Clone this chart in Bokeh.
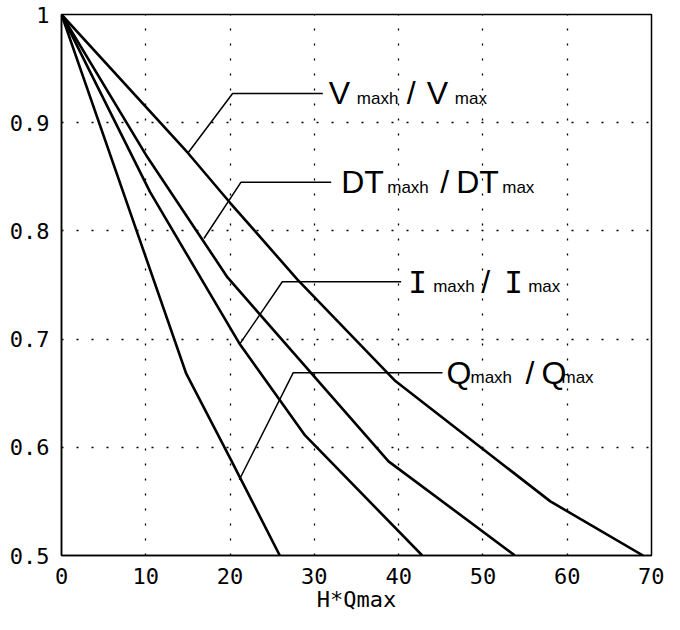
from bokeh.plotting import figure
from bokeh.models import Range1d, FixedTicker, Label
from bokeh.embed import file_html
from bokeh.resources import INLINE

# ---- data ----
v_x = [0, 15, 20, 28, 39.5, 58, 69]
v_y = [1.0, 0.872, 0.826, 0.755, 0.662, 0.55, 0.5]

dt_x = [0, 10.2, 19.7, 38.8, 53.8]
dt_y = [1.0, 0.868, 0.757, 0.587, 0.5]

i_x = [0, 10.5, 21.1, 28.9, 42.8]
i_y = [1.0, 0.836, 0.696, 0.611, 0.5]

q_x = [0, 14.8, 20, 25.9]
q_y = [1.0, 0.668, 0.59, 0.5]

# leader lines: curve point -> corner -> label end
v_lead_x = [15.0, 20.3, 31.0]
v_lead_y = [0.872, 0.927, 0.927]
dt_lead_x = [16.9, 21.3, 32.0]
dt_lead_y = [0.793, 0.845, 0.845]
i_lead_x = [21.2, 26.2, 40.3]
i_lead_y = [0.696, 0.753, 0.753]
q_lead_x = [21.1, 27.5, 45.2]
q_lead_y = [0.570, 0.669, 0.669]

x_ticks = [0, 10, 20, 30, 40, 50, 60, 70]
y_ticks = [0.5, 0.6, 0.7, 0.8, 0.9, 1.0]
y_tick_labels = ["0.5", "0.6", "0.7", "0.8", "0.9", "1"]
x_label = "H*Qmax"

p = figure(width=664, height=614, output_backend="svg", toolbar_location=None,
           x_range=Range1d(0, 70), y_range=Range1d(0.5, 1.0),
           min_border_left=61, min_border_right=13, min_border_top=14,
           min_border_bottom=59)
p.background_fill_color = "white"
p.border_fill_color = "white"
p.outline_line_color = "black"
p.outline_line_width = 1.5

tick_font = "DejaVu Sans Mono"
for ax in (p.xaxis[0], p.yaxis[0]):
    ax.axis_line_color = "black"
    ax.axis_line_width = 1.5
    ax.major_tick_line_color = None
    ax.minor_tick_line_color = None
    ax.major_label_text_font = tick_font
    ax.major_label_text_font_size = "22px"
    ax.major_label_text_color = "black"

p.xaxis[0].ticker = FixedTicker(ticks=x_ticks)
p.yaxis[0].ticker = FixedTicker(ticks=y_ticks)
p.yaxis[0].major_label_overrides = {t: l for t, l in zip(y_ticks, y_tick_labels)}
p.xaxis[0].major_label_standoff = 6
p.yaxis[0].major_label_standoff = 6
p.xaxis[0].axis_label = x_label
p.xaxis[0].axis_label_text_font = tick_font
p.xaxis[0].axis_label_text_font_size = "22px"
p.xaxis[0].axis_label_text_font_style = "normal"
p.xaxis[0].axis_label_standoff = 0
p.xaxis[0].axis_label_text_color = "black"

p.xgrid[0].ticker = FixedTicker(ticks=x_ticks)
p.ygrid[0].ticker = FixedTicker(ticks=y_ticks)
for g in (p.xgrid[0], p.ygrid[0]):
    g.grid_line_color = "black"
    g.grid_line_alpha = 1.0
    g.grid_line_width = 1.3
    g.grid_line_dash = "2 13"

for xs, ys in ((v_x, v_y), (dt_x, dt_y), (i_x, i_y), (q_x, q_y)):
    p.line(xs, ys, line_color="black", line_width=2.6)

for xs, ys in ((v_lead_x, v_lead_y), (dt_lead_x, dt_lead_y),
               (i_lead_x, i_lead_y), (q_lead_x, q_lead_y)):
    p.line(xs, ys, line_color="black", line_width=1.5)

# (font, size px, vertical offset px so that all pieces share one baseline)
BIG = ("Liberation Sans", 32, 0.0)
SUB = ("Liberation Sans", 17, -5.2)
SER = ("DejaVu Sans Mono", 31, 0.0)


def add_label(x, y, pieces):
    for text, (font, size, dy), dx in pieces:
        p.add_layout(Label(x=x, y=y, x_offset=dx, y_offset=dy, text=text,
                           text_font=font, text_font_size=f"{size}px",
                           text_baseline="middle", text_align="left",
                           text_color="black"))


add_label(v_lead_x[-1], v_lead_y[-1], [
    ("V", BIG, 6), ("maxh", SUB, 34), ("/", BIG, 84), ("V", BIG, 104), ("max", SUB, 132)])
add_label(dt_lead_x[-1], dt_lead_y[-1], [
    ("D", BIG, 10), ("T", BIG, 33), ("maxh", SUB, 56), ("/", BIG, 109),
    ("D", BIG, 125), ("T", BIG, 148), ("max", SUB, 171)])
add_label(i_lead_x[-1], i_lead_y[-1], [
    ("I", SER, 7), ("maxh", SUB, 32), ("/", BIG, 80), ("I", SER, 103), ("max", SUB, 127)])
add_label(q_lead_x[-1], q_lead_y[-1], [
    ("Q", BIG, 4), ("maxh", SUB, 28), ("/", BIG, 83), ("Q", BIG, 99), ("max", SUB, 119)])

open("out.html", "w").write(file_html(p, INLINE))
